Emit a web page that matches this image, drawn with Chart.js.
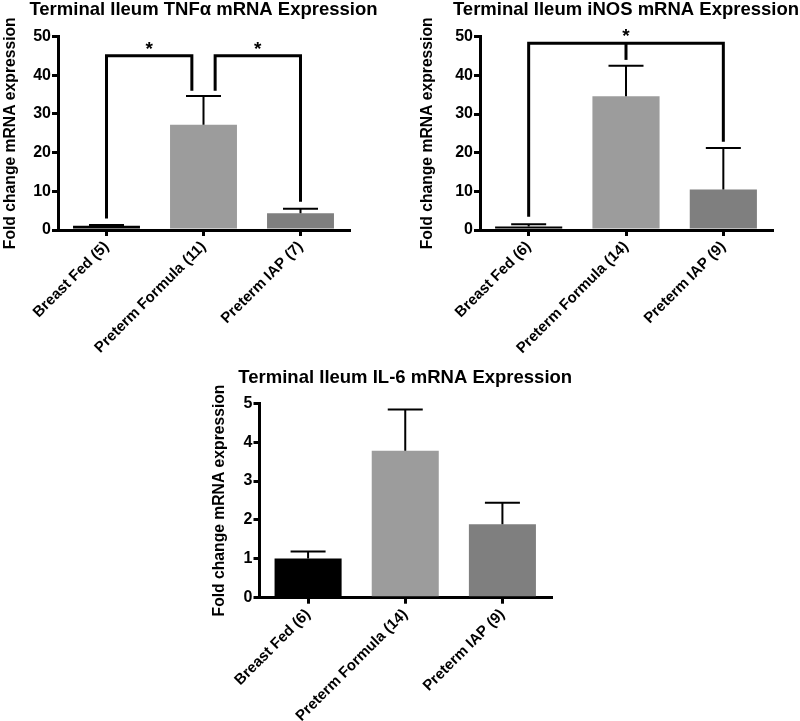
<!DOCTYPE html>
<html>
<head>
<meta charset="utf-8">
<script src="https://cdn.jsdelivr.net/npm/chart.js@4.4.1/dist/chart.umd.min.js"></script>
<style>
  body { margin: 0; background: #fff; }
  #wrap { position: relative; width: 800px; height: 721px; }
  canvas { position: absolute; }
</style>
</head>
<body>
<div id="wrap">
  <canvas id="c-tnf" width="400" height="360" style="left:0;top:0"></canvas>
  <canvas id="c-inos" width="400" height="360" style="left:400px;top:0"></canvas>
  <canvas id="c-il6" width="400" height="361" style="left:190px;top:360px"></canvas>
</div>
<script>
// ---- data ----
const tnfLabels = ["Breast Fed (5)", "Preterm Formula (11)", "Preterm IAP (7)"];
const tnfMean = [1.1, 27.2, 4.3];
const tnfSem = [0.2, 7.4, 1.2];
const tnfBrackets = [
  { from: 0, to: 0.88, top: 45, leftEnd: 3, rightEnd: 36, label: "*" },
  { from: 1.12, to: 2, top: 45, leftEnd: 36, rightEnd: 7.3, label: "*" }
];

const inosLabels = ["Breast Fed (6)", "Preterm Formula (14)", "Preterm IAP (9)"];
const inosMean = [0.9, 34.6, 10.5];
const inosSem = [0.6, 7.9, 10.7];
const inosBrackets = [
  { from: 0, to: 2, top: 48.3, leftEnd: 3.4, rightEnd: 22.8, mid: 1, midEnd: 44, label: "*" }
];

const il6Labels = ["Breast Fed (6)", "Preterm Formula (14)", "Preterm IAP (9)"];
const il6Mean = [1.01, 3.78, 1.89];
const il6Sem = [0.18, 1.06, 0.55];

const barColors = ["#000000", "#9c9c9c", "#7f7f7f"];
const FONT = "'Liberation Sans', Arial, sans-serif";

// error bars, significance brackets and the panel title (centred on the plot area)
function makeExtras(mean, sem, brackets, title, titleY) {
  return {
    id: "extras",
    afterDatasetsDraw(chart) {
      const { ctx, chartArea, scales: { x, y } } = chart;
      const meta = chart.getDatasetMeta(0);
      ctx.save();
      ctx.strokeStyle = "#000";
      ctx.fillStyle = "#000";
      ctx.lineCap = "butt";
      ctx.lineJoin = "miter";

      ctx.lineWidth = 2;
      meta.data.forEach((bar, i) => {
        const top = y.getPixelForValue(mean[i] + sem[i]);
        ctx.beginPath();
        ctx.moveTo(bar.x, bar.y);
        ctx.lineTo(bar.x, top);
        ctx.moveTo(bar.x - 17.5, top);
        ctx.lineTo(bar.x + 17.5, top);
        ctx.stroke();
      });

      ctx.lineWidth = 3;
      brackets.forEach(b => {
        const x1 = x.getPixelForValue(b.from);
        const x2 = x.getPixelForValue(b.to);
        const yt = y.getPixelForValue(b.top);
        ctx.beginPath();
        ctx.moveTo(x1, y.getPixelForValue(b.leftEnd));
        ctx.lineTo(x1, yt);
        ctx.lineTo(x2, yt);
        ctx.lineTo(x2, y.getPixelForValue(b.rightEnd));
        ctx.stroke();
        let xs = (x1 + x2) / 2;
        if (b.mid != null) {
          xs = x.getPixelForValue(b.mid);
          ctx.beginPath();
          ctx.moveTo(xs, yt);
          ctx.lineTo(xs, y.getPixelForValue(b.midEnd));
          ctx.stroke();
        }
        ctx.font = "bold 19px " + FONT;
        ctx.textAlign = "center";
        ctx.textBaseline = "alphabetic";
        ctx.fillText(b.label, xs, yt - 1);
      });

      ctx.font = "bold 18.5px " + FONT;
      ctx.textAlign = "center";
      ctx.textBaseline = "middle";
      ctx.fillText(title, (chartArea.left + chartArea.right) / 2, titleY);
      ctx.restore();
    }
  };
}

function buildChart(id, cfg) {
  return new Chart(document.getElementById(id), {
    type: "bar",
    data: {
      labels: cfg.labels,
      datasets: [{
        data: cfg.mean,
        backgroundColor: barColors,
        borderWidth: 0,
        barPercentage: 0.69,
        categoryPercentage: 1
      }]
    },
    options: {
      responsive: false,
      animation: false,
      layout: { padding: cfg.pad },
      plugins: {
        legend: { display: false },
        tooltip: { enabled: false },
        title: { display: false }
      },
      scales: {
        x: {
          grid: { offset: false, drawOnChartArea: false, tickLength: 6, lineWidth: 3, color: "#000" },
          border: { display: true, width: 3, color: "#000" },
          ticks: {
            autoSkip: false, minRotation: 45, maxRotation: 45, padding: 2,
            color: "#000", font: { family: FONT, size: 15, weight: "bold" }
          },
          afterFit: s => { s.height = cfg.xHeight; }
        },
        y: {
          min: 0,
          max: cfg.yMax,
          ticks: { stepSize: cfg.yStep, padding: 1, color: "#000", font: { family: FONT, size: 16, weight: "bold" } },
          grid: { drawOnChartArea: false, tickLength: 6, lineWidth: 3, color: "#000" },
          border: { display: true, width: 3, color: "#000" },
          title: {
            display: true,
            text: "Fold change mRNA expression",
            color: "#000",
            font: { family: FONT, size: 15.7, weight: "bold", lineHeight: 1.2 },
            padding: { top: 1.2, bottom: 0 }
          },
          afterFit: s => { s.width = cfg.yWidth; }
        }
      }
    },
    plugins: [makeExtras(cfg.mean, cfg.sem, cfg.brackets, cfg.title, cfg.titleY)]
  });
}

buildChart("c-tnf", {
  title: "Terminal Ileum TNF\u03b1 mRNA Expression", titleY: 10,
  labels: tnfLabels, mean: tnfMean, sem: tnfSem, brackets: tnfBrackets,
  yMax: 50, yStep: 10,
  pad: { left: 0, right: 51, top: 36.5, bottom: 0 },
  yWidth: 58, xHeight: 130
});

buildChart("c-inos", {
  title: "Terminal Ileum iNOS mRNA Expression", titleY: 10,
  labels: inosLabels, mean: inosMean, sem: inosSem, brackets: inosBrackets,
  yMax: 50, yStep: 10,
  pad: { left: 17, right: 28, top: 36.7, bottom: 0 },
  yWidth: 63, xHeight: 130
});

buildChart("c-il6", {
  title: "Terminal Ileum IL-6 mRNA Expression", titleY: 17.5,
  labels: il6Labels, mean: il6Mean, sem: il6Sem, brackets: [],
  yMax: 5, yStep: 1,
  pad: { left: 19, right: 39, top: 43.3, bottom: 0 },
  yWidth: 50.5, xHeight: 123.3
});
</script>
</body>
</html>
